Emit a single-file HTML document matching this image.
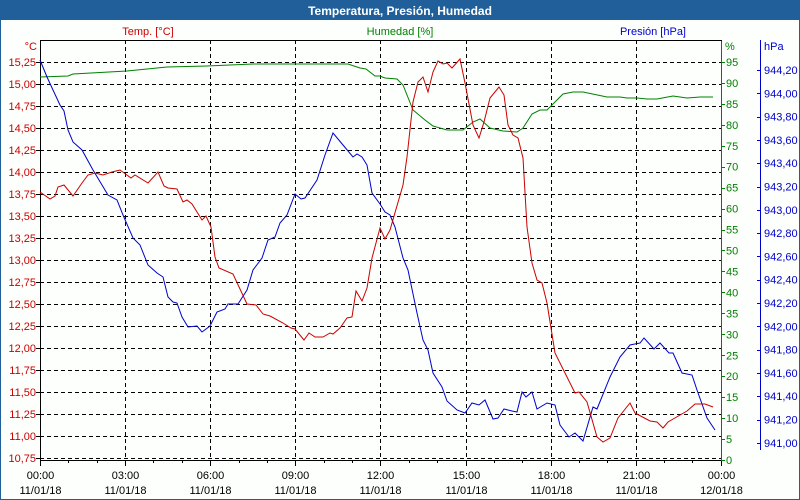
<!DOCTYPE html>
<html><head><meta charset="utf-8"><style>
body{margin:0;background:#fff}
svg{display:block;font-family:"Liberation Sans","DejaVu Sans",sans-serif}
</style></head><body>
<svg id="s" width="800" height="500" xmlns="http://www.w3.org/2000/svg">
<rect x="0" y="0" width="800" height="500" fill="#fcfffc"/>
<rect x="0" y="0" width="800" height="20" fill="#215f9a"/>
<rect x="0.5" y="0.5" width="799" height="499" fill="none" stroke="#215f9a"/>
<text x="400" y="15" fill="#fff" font-size="12" font-weight="bold" text-anchor="middle">Temperatura, Presión, Humedad</text>
<text x="148" y="35" fill="#cc0000" font-size="11" text-anchor="middle">Temp. [°C]</text>
<text x="400" y="35" fill="#008000" font-size="11" text-anchor="middle">Humedad [%]</text>
<text x="686" y="35" fill="#0000cc" font-size="11" text-anchor="end">Presión [hPa]</text>
<text x="37" y="50" fill="#cc0000" font-size="11" text-anchor="end">°C</text>
<text x="725" y="50" fill="#008000" font-size="11">%</text>
<text x="764" y="50" fill="#0000cc" font-size="11">hPa</text>
<g id="g"></g>
<line x1="40.5" y1="40" x2="40.5" y2="461" stroke="#000"/>
<line x1="40" y1="460.5" x2="722" y2="460.5" stroke="#000"/>
<line x1="721.5" y1="40" x2="721.5" y2="461" stroke="#008000"/>
<line x1="760.5" y1="40" x2="760.5" y2="450" stroke="#0000cc"/>
<line x1="40" y1="40.5" x2="722" y2="40.5" stroke="#000"/>
<polyline fill="none" stroke="#008000" points="40,77 68,76 73,74 127,71 167,67 207,66 253,64 348,64 360,68 366,69 375,76 380,76 385,78 397,79 403,85 413,110 425,120 433,126 447,130 463,130 473,122 480,119 490,128 503,131 517,132 523,128 532,114 540,110 547,110 563,94 573,92 583,92 607,97 620,97 627,98 637,98 647,99 657,99 673,96 687,98 700,97 713,97"/>
<polyline fill="none" stroke="#0000cc" points="40,60 47,77 53,90 60,105 64,111 68,130 73,142 82,150 93,170 108,195 117,200 123,215 133,238 140,245 148,265 157,273 163,277 168,297 173,302 177,303 182,317 188,327 197,326 202,332 210,326 217,312 225,309 228,304 238,304 247,290 253,270 262,258 268,240 275,237 280,223 287,215 295,194 301,199 305,198 317,180 325,155 333,133 343,145 353,157 357,154 362,157 367,165 372,193 380,204 385,212 390,215 395,227 403,258 408,270 417,313 423,340 428,350 433,373 442,387 447,401 457,410 465,413 472,403 479,405 485,400 493,419 498,418 504,409 512,411 517,412 522,392 526,397 532,392 537,409 547,403 555,405 560,425 569,437 575,433 583,441 593,407 597,409 610,377 620,357 630,345 640,343 644,338 654,349 660,343 669,353 673,353 682,373 692,375 697,390 707,418 715,430"/>
<polyline fill="none" stroke="#cc0000" points="40,192 50,199 55,196 58,187 64,185 73,196 82,183 88,175 95,173 103,175 112,172 120,170 131,178 135,175 148,183 158,172 164,186 168,188 177,189 183,202 187,200 192,204 202,220 206,216 211,227 215,257 219,268 233,274 247,304 256,305 263,314 270,316 283,323 291,328 295,329 304,340 309,333 315,337 323,337 330,333 333,334 340,328 347,318 352,317 356,291 362,301 367,288 372,258 380,228 385,239 390,230 403,185 407,157 413,102 418,82 423,77 428,92 433,72 438,61 443,64 447,63 452,68 460,59 465,83 473,125 479,138 484,122 490,98 499,87 504,95 508,125 513,135 518,138 523,158 527,227 532,263 537,280 542,283 547,303 555,353 567,377 575,393 579,392 587,402 597,437 603,442 610,438 618,418 630,403 635,413 650,421 657,422 663,428 668,422 687,411 695,404 705,404 713,407"/>
</svg>
<script>
var g=document.getElementById('g'),h='';
function f(n,d){return n.toFixed(d).replace('.',',');}
for(var i=0;i<=18;i++){var y=62+i*22,t=15.25-i*0.25;
 h+='<line x1="40" y1="'+(y+.5)+'" x2="721" y2="'+(y+.5)+'" stroke="#000" stroke-dasharray="4,3"/>';
 h+='<line x1="36" y1="'+(y+.5)+'" x2="40" y2="'+(y+.5)+'" stroke="#000"/>';
 h+='<text x="36" y="'+(y+4)+'" fill="#cc0000" font-size="11" text-anchor="end">'+f(t,2)+'</text>';}
for(var k=0;k<=8;k++){var x=Math.round(40+k*85.1)+.5;
 if(k>0&&k<8)h+='<line x1="'+x+'" y1="40" x2="'+x+'" y2="460" stroke="#000" stroke-dasharray="4,3"/>';
 h+='<line x1="'+x+'" y1="460" x2="'+x+'" y2="466" stroke="#000"/>';
 var hh=(k*3)%24;h+='<text x="'+x+'" y="479" font-size="11" text-anchor="middle">'+(hh<10?'0':'')+hh+':00</text>';
 h+='<text x="'+x+'" y="494" font-size="11" text-anchor="middle">'+(k==8?'12/01/18':'11/01/18')+'</text>';}
for(var m=0;m<24;m++){var x=Math.round(40+m*85.1/3)+.5;h+='<line x1="'+x+'" y1="460" x2="'+x+'" y2="463" stroke="#000"/>';}
for(var p=0;p<=19;p++){var y=460-p*5*4.19;
 h+='<line x1="722" y1="'+(Math.round(y)+.5)+'" x2="725" y2="'+(Math.round(y)+.5)+'" stroke="#008000"/>';
 h+='<text x="726" y="'+(y+4)+'" fill="#008000" font-size="11">'+(p*5)+'</text>';}
for(var q=0;q<=16;q++){var y=70+q*23.3,v=944.2-q*0.2;
 h+='<line x1="757" y1="'+(Math.round(y)+.5)+'" x2="761" y2="'+(Math.round(y)+.5)+'" stroke="#0000cc"/>';
 h+='<text x="764" y="'+(y+4)+'" fill="#0000cc" font-size="11">'+f(v,2)+'</text>';}
g.innerHTML=h;
</script>
</body></html>
